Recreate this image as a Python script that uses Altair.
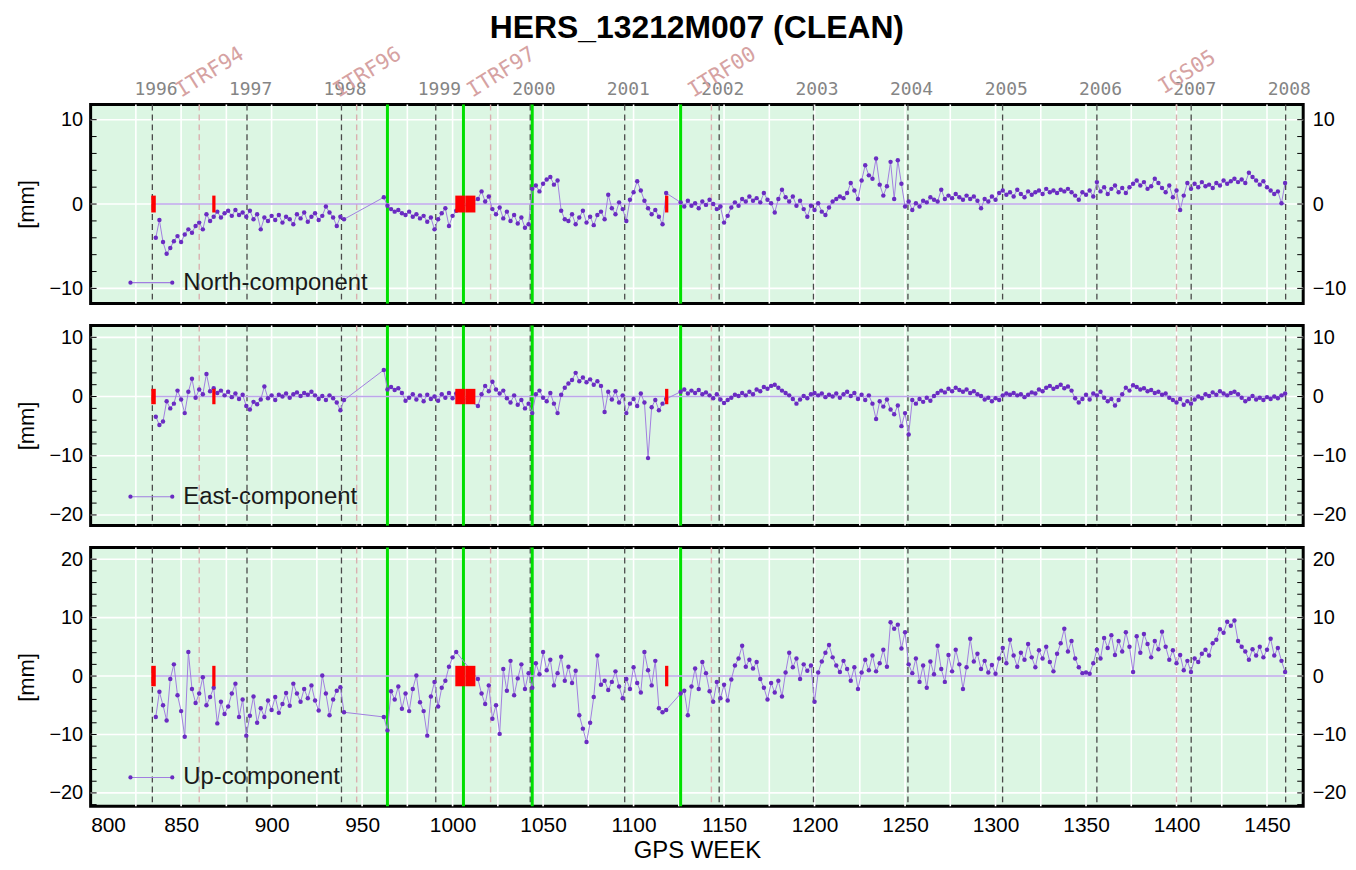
import altair as alt
import pandas as pd

TITLE = "HERS_13212M007 (CLEAN)"
X_DOMAIN = [800, 1470]

# ---- observation weeks (GPS week) ----
WEEKS_A = [836, 838, 840, 842, 844, 846, 848, 850, 852, 854, 856, 858, 860, 862, 864, 866, 868, 870,
           872, 874, 876, 878, 880, 882, 884, 886, 888, 890, 892, 894, 896, 898, 900, 902, 904, 906,
           908, 910, 912, 914, 916, 918, 920, 922, 924, 926, 928, 930, 932, 934, 936, 938, 940]
WEEKS_B = [962, 964, 966, 968, 970, 972, 974, 976, 978, 980, 982, 984, 986, 988, 990, 992, 994, 996,
           998, 1000, 1002]
WEEKS_C = [1014, 1016, 1018, 1020, 1022, 1024, 1026, 1028, 1030, 1032, 1034, 1036, 1038, 1040, 1042,
           1044, 1046, 1048, 1050, 1052, 1054, 1056, 1058, 1060, 1062, 1064, 1066, 1068, 1070, 1072,
           1074, 1076, 1078, 1080, 1082, 1084, 1086, 1088, 1090, 1092, 1094, 1096, 1098, 1100, 1102,
           1104, 1106, 1108, 1110, 1112, 1114, 1116, 1118]
WEEKS_D = [1126, 1128, 1130, 1132, 1134, 1136, 1138, 1140, 1142, 1144, 1146, 1148, 1150, 1152, 1154,
           1156, 1158, 1160, 1162, 1164, 1166, 1168, 1170, 1172, 1174, 1176, 1178, 1180, 1182, 1184,
           1186, 1188, 1190, 1192, 1194, 1196, 1198, 1200, 1202, 1204, 1206, 1208, 1210, 1212, 1214,
           1216, 1218, 1220, 1222, 1224, 1226, 1228, 1230, 1232, 1234, 1236, 1238, 1240, 1242, 1244,
           1246, 1248, 1250, 1252, 1254, 1256, 1258, 1260, 1262, 1264, 1266, 1268, 1270, 1272, 1274,
           1276, 1278, 1280, 1282, 1284, 1286, 1288, 1290, 1292, 1294, 1296, 1298, 1300, 1302, 1304,
           1306, 1308, 1310, 1312, 1314, 1316, 1318, 1320, 1322, 1324, 1326, 1328, 1330, 1332, 1334,
           1336, 1338, 1340, 1342, 1344, 1346, 1348, 1350, 1352, 1354, 1356, 1358, 1360, 1362, 1364,
           1366, 1368, 1370, 1372, 1374, 1376, 1378, 1380, 1382, 1384, 1386, 1388, 1390, 1392, 1394,
           1396, 1398, 1400, 1402, 1404, 1406, 1408, 1410, 1412, 1414, 1416, 1418, 1420, 1422, 1424,
           1426, 1428, 1430, 1432, 1434, 1436, 1438, 1440, 1442, 1444, 1446, 1448, 1450, 1452, 1454,
           1456, 1458, 1460]

# ---- North component [mm] ----
NORTH_A = [-4.0, -1.9, -4.5, -5.9, -5.2, -4.4, -3.8, -4.5, -3.6, -3.0,
           -3.4, -2.6, -2.2, -3.0, -1.2, -2.0, -1.5, -0.9, -1.6, -1.1,
           -0.8, -1.4, -0.7, -1.3, -1.0, -1.5, -0.8, -1.8, -1.2, -3.0,
           -1.6, -2.0, -1.4, -1.9, -1.3, -2.2, -1.5, -1.8, -2.4, -1.2,
           -1.7, -1.0, -2.1, -1.5, -1.1, -1.9, -1.4, -0.3, -1.0, -1.6,
           -2.6, -1.5, -1.8]
NORTH_B = [0.8, -0.2, -0.6, -0.9, -0.7, -1.1, -1.3, -0.9, -1.5, -1.2, -1.7, -1.4, -2.1, -1.6, -3.0,
           -1.8, -1.1, -0.5, -2.6, -1.4, -0.8]
NORTH_C = [0.6, 1.5, 0.3, 0.9, -0.6, -1.2, -0.4, -1.7, -0.9, -2.0,
           -1.3, -2.3, -1.6, -2.8, -2.4, 1.8, 2.2, 1.5, 2.4, 2.9,
           3.2, 2.3, 2.8, -0.8, -1.8, -2.0, -1.2, -2.4, -1.6, -0.8,
           -2.2, -1.5, -2.5, -1.3, -0.9, -1.8, 1.1, -0.5, -1.2, 0.2,
           -0.6, -2.0, 0.5, 1.4, 2.7, 1.6, 0.4, -0.5, -1.2, -0.7,
           -1.5, -2.4, 1.3]
NORTH_D = [0.2, -0.3, 0.4, -0.2, 0.1, -0.5, 0.3, -0.1, 0.5, 0.0,
           -0.6, -0.3, -2.2, -1.4, -0.4, 0.2, -0.2, 0.6, 0.3, 0.9,
           0.4, 0.7, 0.2, 1.3, 0.5, 0.1, -1.0, 0.6, 1.7, 0.8,
           0.3, 0.9, -0.2, 0.4, -0.6, -1.5, -0.2, -0.7, 0.1, -0.9,
           -1.3, -0.4, 0.3, 0.6, 0.9, 0.7, 1.3, 2.5, 1.6, 0.6,
           2.8, 4.6, 3.4, 3.0, 5.4, 2.3, 1.0, 2.1, 5.0, 0.6,
           5.2, 2.4, -0.3, 0.3, -0.7, 0.1, -0.3, 0.4, 0.2, 0.8,
           0.5, 0.3, 1.7, 0.6, 1.0, 0.7, 1.2, 0.8, 0.5, 1.0,
           0.6, 0.9, 0.4, -0.5, 0.6, 0.3, 0.9, 0.5, 1.3, 1.6,
           1.1, 1.4, 0.9, 1.7, 1.2, 0.8, 1.5, 1.1, 1.4, 1.6,
           1.2, 1.8, 1.4, 1.6, 1.3, 1.7, 1.5, 1.8, 1.4, 1.0,
           0.5, 1.4, 1.1, 1.6, 0.9, 2.6, 1.5, 2.0, 1.2, 1.8,
           2.2, 1.4, 1.9, 1.3, 2.0, 2.4, 2.8, 2.2, 2.6, 1.8,
           2.1, 3.0, 2.5, 1.9, 1.4, 2.2, 0.8, 1.6, -0.7, 1.0,
           2.5, 1.8, 2.4, 2.0, 2.6, 2.1, 2.3, 1.9, 2.5, 2.2,
           2.8, 2.4, 2.7, 3.0, 2.6, 2.9, 2.5, 3.7, 3.2, 2.8,
           2.3, 2.7, 2.0, 1.6, 1.2, 1.5, 0.1, 2.5]

# ---- East component [mm] ----
EAST_A = [-3.4, -4.8, -4.2, -0.8, -2.0, -1.2, 1.0, -0.5, -2.8, 0.8,
          3.0, -0.2, 1.2, 0.4, 3.8, 0.9, 1.4, 0.6, 1.0, 0.2,
          0.8, -0.1, 0.5, -0.4, 0.3, -1.6, -2.2, -0.9, -1.3, -0.5,
          1.7, -0.3, 0.2, -0.6, 0.3, 0.0, 0.5, -0.2, 0.4, 0.7,
          0.1, 0.6, 0.3, 0.8, 0.2, -0.4, 0.1, -0.6, 0.2, -0.3,
          -1.0, -2.3, -0.6]
EAST_B = [4.5, 1.2, 1.6, 1.1, 1.4, 0.6, -0.7, -0.2, 0.4, -0.5, 0.2, -0.8, 0.3, -0.4, 0.0, -0.7,
          0.4, -0.2, 0.6, -0.3, 0.5]
EAST_C = [-1.6, 0.4, 1.8, 0.9, 2.5, 1.2, 0.5, 1.0, -0.3, -1.0,
          0.2, -1.4, -0.6, -2.0, -1.2, -2.8, 0.4, 1.0, -0.2, -0.8,
          0.6, -1.2, -2.8, 0.3, 1.5, 2.2, 2.8, 4.0, 2.6, 3.2,
          2.4, 2.9, 2.0, 2.6, 1.8, -2.6, 0.8, -0.5, 0.9, -1.0,
          0.2, -2.8, -1.2, -0.4, -1.6, 0.5, -1.0, -10.4, -1.8, -0.6,
          -2.3, -1.2, -0.4]
EAST_D = [0.8, 1.2, 0.5, 1.0, 0.6, 1.1, 0.4, 0.7, 0.2, -0.3,
          0.4, -0.5, -1.1, -0.6, -0.2, 0.3, 0.1, 0.6, 0.2, 0.8,
          0.4, 1.2, 0.9, 1.6, 1.3, 1.8, 2.0, 1.5, 1.0, 0.6,
          0.2, -0.4, -1.2, -0.5, 0.1, -0.3, 0.4, 0.6, 0.2, 0.5,
          -0.1, 0.3, 0.0, 0.5, -0.2, 0.4, 0.8, 0.1, 0.6, -0.4,
          0.3, -0.6, 0.2, -1.2, -3.8, -0.8, -1.7, -0.5, -2.2, -3.0,
          -1.5, -5.0, -2.8, -6.4, -0.6, -1.2, -0.4, -0.9, -0.2, -0.7,
          0.1, 0.6, 1.0, 0.7, 1.3, 0.9, 1.5, 1.1, 0.8, 1.2,
          0.6, 0.9, 0.4, 0.1, -0.5, -0.2, -0.8, -0.3, -0.6, 0.2,
          0.5, 0.3, 0.6, 0.2, 0.4, -0.1, 0.3, 0.7, 0.5, 1.2,
          0.9, 1.5, 1.8, 1.3, 1.6, 2.0, 1.4, 1.7, 1.0, -0.3,
          -1.0, -0.4, 0.3, -0.5, 0.5, 0.2, 0.8, -0.2, -0.8, -0.4,
          -1.5, -0.6, 0.4, 1.5, 1.0, 1.9, 1.6, 1.2, 1.4, 0.9,
          1.1, 0.6, 0.8, 0.3, 0.5, -0.2, -0.6, -1.0, -0.4, -1.4,
          -0.8, -1.2, -0.5, 0.0, -0.3, 0.4, 0.1, 0.7, 0.3, 0.9,
          0.5, 0.2, 0.6, 0.8, 0.4, -0.2, -0.8, -0.4, 0.1, -0.5,
          -0.2, -0.6, -0.1, -0.4, 0.0, -0.3, 0.2, 0.5]

# ---- Up component [mm] ----
UP_A = [-7.0, -2.7, -5.0, -7.6, -0.5, 2.0, -3.3, -6.0, -10.4, 4.1,
        -2.2, -4.6, -3.0, -0.2, -5.0, -3.6, -2.0, -8.1, -4.4, -6.5,
        -5.2, -3.0, -1.3, -7.0, -4.0, -10.2, -6.8, -3.5, -8.0, -5.5,
        -7.0, -4.2, -5.8, -3.6, -6.3, -4.8, -2.9, -5.1, -1.3, -3.0,
        -4.4, -2.2, -3.8, -1.6, -4.2, -5.9, 0.1, -3.0, -6.7, -4.0,
        -2.5, -1.9, -6.2]
UP_B = [-7.0, -9.3, -2.6, -4.0, -1.8, -5.6, -3.0, -6.0, -2.2, 0.1, -4.5, -6.0, -10.2, -3.5, -1.0,
        -5.2, -2.0, -0.8, 1.6, 3.2, 4.1]
UP_C = [-0.5, -3.0, -4.8, -1.6, -7.3, -5.0, -9.9, 1.2, -2.5, 2.6,
        -3.3, -0.4, 2.0, -2.2, 0.5, -2.0, 2.2, 0.3, 4.1, 1.0,
        2.8, -1.6, 0.5, 3.3, -0.8, 1.6, -1.2, 0.9, -6.7, -9.0,
        -11.3, -8.0, -3.6, 3.5, -1.5, -0.8, -2.4, -1.0, 0.8, -1.8,
        -3.8, -0.5, -2.2, 1.5, -1.2, -2.8, 4.1, 1.0, -1.6, 2.6,
        -5.5, -6.2, -5.8]
UP_D = [-3.0, -2.5, -6.7, -1.8, 1.3, -2.2, 2.4, 0.5, -2.6, -4.4,
        -1.0, -3.8, -1.5, -4.2, -0.6, 1.8, 3.0, 5.2, 1.6, 2.8,
        1.3, 2.4, -0.5, -2.0, -4.0, -1.2, -2.8, -0.8, -3.5, 0.6,
        4.0, 1.5, 3.0, -0.5, 2.0, 0.9, 1.8, -4.4, 0.6, 2.5,
        4.0, 5.3, 3.2, 1.8, 0.7, 2.6, 1.2, -0.8, 1.5, -2.2,
        0.6, 2.8, 1.0, 3.5, 0.8, 2.2, 4.5, 1.6, 9.2, 8.1,
        8.8, 4.7, 7.5, 2.0, 0.5, 3.0, -1.0, 1.8, -2.0, 2.5,
        0.3, 5.2, 1.2, -1.0, 3.6, 0.8, 4.5, 2.0, -2.2, 1.5,
        6.4, 2.5, 3.8, 1.2, 2.6, 0.6, 1.9, 0.4, 3.0, 4.8,
        2.2, 6.2, 3.5, 1.6, 4.0, 2.8, 5.5, 3.2, 1.5, 4.4,
        3.0, 5.0, 2.4, 0.8, 3.8, 5.6, 8.1, 4.2, 6.0, 3.0,
        1.5, 0.5, 0.6, 0.4, 2.2, 4.5, 3.0, 6.5, 4.8, 7.0,
        3.6, 6.0, 4.2, 7.5, 5.0, 0.7, 6.8, 4.0, 7.2, 5.5,
        3.2, 6.0, 4.6, 7.6, 5.0, 2.8, 4.4, 2.2, 3.6, 1.0,
        2.6, 0.7, 3.0, 2.4, 3.8, 4.5, 3.5, 5.6, 6.2, 8.0,
        7.4, 9.3, 8.6, 9.5, 6.0, 5.0, 4.2, 2.8, 4.6, 3.5,
        5.0, 3.2, 4.5, 6.4, 3.5, 4.8, 2.6, 0.7]

# ---- annotations ----
YEAR_LABELS = ["1996", "1997", "1998", "1999", "2000", "2001", "2002", "2003", "2004", "2005",
               "2006", "2007", "2008"]
YEAR_WEEKS = [834.1, 886.4, 938.6, 990.7, 1042.9, 1095.1, 1147.3, 1199.4, 1251.6, 1303.9,
              1356.0, 1408.1, 1460.3]
FRAME_LABELS = ["ITRF94", "ITRF96", "ITRF97", "ITRF00", "IGS05"]
FRAME_WEEKS = [860, 947, 1021, 1143, 1400]
BREAK_WEEKS = [964, 1006, 1044, 1126]
RED_START = [833.5, 867.2, 1001.5, 1007.0, 1117.4]
RED_END = [836.0, 869.0, 1006.8, 1012.6, 1119.2]
GRID_WEEKS = [825, 850, 875, 900, 925, 950, 975, 1000, 1025, 1050, 1075, 1100, 1125, 1150, 1175,
              1200, 1225, 1250, 1275, 1300, 1325, 1350, 1375, 1400, 1425, 1450]
X_TICKS = [800, 850, 900, 950, 1000, 1050, 1100, 1150, 1200, 1250, 1300, 1350, 1400, 1450]
ZERO_START, ZERO_END = 834, 1460

COMPONENTS = ["North-component", "East-component", "Up-component"]
Y_DOMAINS = [[-11.8, 11.8], [-21.8, 12.0], [-22.3, 22.0]]
Y_TICKS = [[10, 0, -10], [10, 0, -10, -20], [20, 10, 0, -10, -20]]
Y_MINOR = [[-10, -8, -6, -4, -2, 0, 2, 4, 6, 8, 10],
           [-20, -18, -16, -14, -12, -10, -8, -6, -4, -2, 0, 2, 4, 6, 8, 10, 12],
           [-22, -20, -18, -16, -14, -12, -10, -8, -6, -4, -2, 0, 2, 4, 6, 8, 10, 12, 14, 16, 18, 20, 22]]
RED_HALF = [1.0, 1.3, 1.75]

WIDTH = 1218
HEIGHTS = [200, 201, 260]
LEGEND_Y = [179, 172, 231]

FONT = "Liberation Sans"
MONO = "DejaVu Sans Mono"
PT_COLOR = "#6a2cc2"
LN_COLOR = "#a17ee0"

SERIES = [NORTH_A + NORTH_B + NORTH_C + NORTH_D,
          EAST_A + EAST_B + EAST_C + EAST_D,
          UP_A + UP_B + UP_C + UP_D]
WEEKS = WEEKS_A + WEEKS_B + WEEKS_C + WEEKS_D


def make_panel(i):
    H = HEIGHTS[i]
    xs = alt.Scale(domain=X_DOMAIN, nice=False, zero=False)
    ys = alt.Scale(domain=Y_DOMAINS[i], nice=False, zero=False)
    df = pd.DataFrame({"week": WEEKS, "v": SERIES[i]})
    one = pd.DataFrame({"t": [COMPONENTS[i]]})

    if i == 2:
        x_axis = alt.Axis(orient="bottom", values=X_TICKS, title="GPS WEEK", format="d",
                          titleFontSize=24, titleFontWeight="normal", titleFont=FONT,
                          titleColor="black", labelFont=FONT, labelFontSize=21,
                          labelColor="black", ticks=False, domain=False, grid=False,
                          labelPadding=8, titlePadding=3)
    else:
        x_axis = None

    def X(f):
        return alt.X(f, type="quantitative", scale=xs, axis=x_axis)

    def Y(f, axis=None):
        return alt.Y(f, type="quantitative", scale=ys, axis=axis)

    left_axis = alt.Axis(orient="left", values=Y_TICKS[i], title="[mm]", titleFontSize=22,
                         titleFontWeight="normal", titleFont=FONT, titleColor="black",
                         labelFont=FONT, labelFontSize=20, labelColor="black", ticks=False,
                         domain=False, grid=False, labelPadding=8, titlePadding=10)
    right_axis = alt.Axis(orient="right", values=Y_TICKS[i], title=None, labelFont=FONT,
                          labelFontSize=20, labelColor="black", ticks=False, domain=False,
                          grid=False, labelPadding=9)

    grid_df = pd.DataFrame({"week": GRID_WEEKS})
    hdf = pd.DataFrame({"v": Y_TICKS[i]})
    mdf = pd.DataFrame({"v": Y_MINOR[i]})
    year_df = pd.DataFrame({"week": YEAR_WEEKS, "lbl": YEAR_LABELS})
    frame_df = pd.DataFrame({"week": FRAME_WEEKS, "lbl": FRAME_LABELS})
    brk_df = pd.DataFrame({"week": BREAK_WEEKS})
    zero_df = pd.DataFrame({"w0": [ZERO_START], "w1": [ZERO_END], "z": [0.0]})
    red_df = pd.DataFrame({"r0": RED_START, "r1": RED_END})
    red_df["lo"] = -RED_HALF[i]
    red_df["hi"] = RED_HALF[i]

    layers = [
        alt.Chart(grid_df).mark_rule(color="white", strokeWidth=1.6).encode(x=X("week")),
        alt.Chart(hdf).mark_rule(color="white", strokeWidth=1.6).encode(y=Y("v", left_axis)),
        alt.Chart(hdf).mark_rule(opacity=0).encode(y=Y("v", right_axis)),
        alt.Chart(year_df).mark_rule(color="#4a4a4a", strokeDash=[6, 4], strokeWidth=1.3).encode(x=X("week")),
        alt.Chart(frame_df).mark_rule(color="#dab0b0", strokeDash=[6, 4], strokeWidth=1.4).encode(x=X("week")),
        alt.Chart(brk_df).mark_rule(color="#00e000", strokeWidth=3).encode(x=X("week")),
        alt.Chart(zero_df).mark_rule(color="#bda6ea", strokeWidth=1.5).encode(
            x=X("w0"), x2="w1", y=Y("z")),
        alt.Chart(df).mark_line(color=LN_COLOR, strokeWidth=1).encode(x=X("week"), y=Y("v")),
        alt.Chart(df).mark_circle(color=PT_COLOR, size=20, opacity=1).encode(x=X("week"), y=Y("v")),
        alt.Chart(red_df).mark_rect(color="#ff0000").encode(x=X("r0"), x2="r1", y=Y("lo"), y2="hi"),
        alt.Chart(mdf).mark_rule(color="black", strokeWidth=1).encode(
            x=alt.value(0), x2=alt.value(6), y=Y("v")),
        alt.Chart(mdf).mark_rule(color="black", strokeWidth=1).encode(
            x=alt.value(WIDTH - 6), x2=alt.value(WIDTH), y=Y("v")),
        alt.Chart(one).mark_rule(color=LN_COLOR, strokeWidth=1.2).encode(
            x=alt.value(40), x2=alt.value(82), y=alt.value(LEGEND_Y[i])),
        alt.Chart(one).mark_circle(color=PT_COLOR, size=18, opacity=1).encode(
            x=alt.value(40), y=alt.value(LEGEND_Y[i])),
        alt.Chart(one).mark_circle(color=PT_COLOR, size=18, opacity=1).encode(
            x=alt.value(82), y=alt.value(LEGEND_Y[i])),
        alt.Chart(one).mark_text(align="left", baseline="middle", fontSize=24, font=FONT,
                                 color="#1a1a1a").encode(
            x=alt.value(93), y=alt.value(LEGEND_Y[i]), text="t:N"),
    ]
    if i == 0:
        layers += [
            alt.Chart(year_df).mark_text(font=MONO, fontSize=18, color="#858585", baseline="middle",
                                         align="center").encode(
                x=X("xl"), y=alt.value(-15), text="lbl:N").transform_calculate(xl="datum.week + 2"),
            alt.Chart(frame_df).mark_text(font=MONO, fontSize=21, color="#d6a2a2", baseline="middle",
                                          align="center", angle=328).encode(
                x=X("xl"), y=alt.value(-32), text="lbl:N").transform_calculate(xl="datum.week + 6"),
            alt.Chart(one).mark_text(font=FONT, fontSize=32, fontWeight="bold", color="black",
                                     baseline="middle", align="center").encode(
                x=alt.value(WIDTH / 2), y=alt.value(-77), text=alt.value(TITLE)),
        ]
    return alt.layer(*layers).resolve_scale(y="independent").properties(width=WIDTH, height=H)


chart = alt.vconcat(make_panel(0), make_panel(1), make_panel(2), spacing=16)
chart = chart.configure_view(stroke="black", strokeWidth=3, fill="#dcf6e3").properties(
    padding={"left": 6, "top": 0, "right": 0, "bottom": 0})

chart.save("out.html", embed_options={"renderer": "svg", "actions": False})
